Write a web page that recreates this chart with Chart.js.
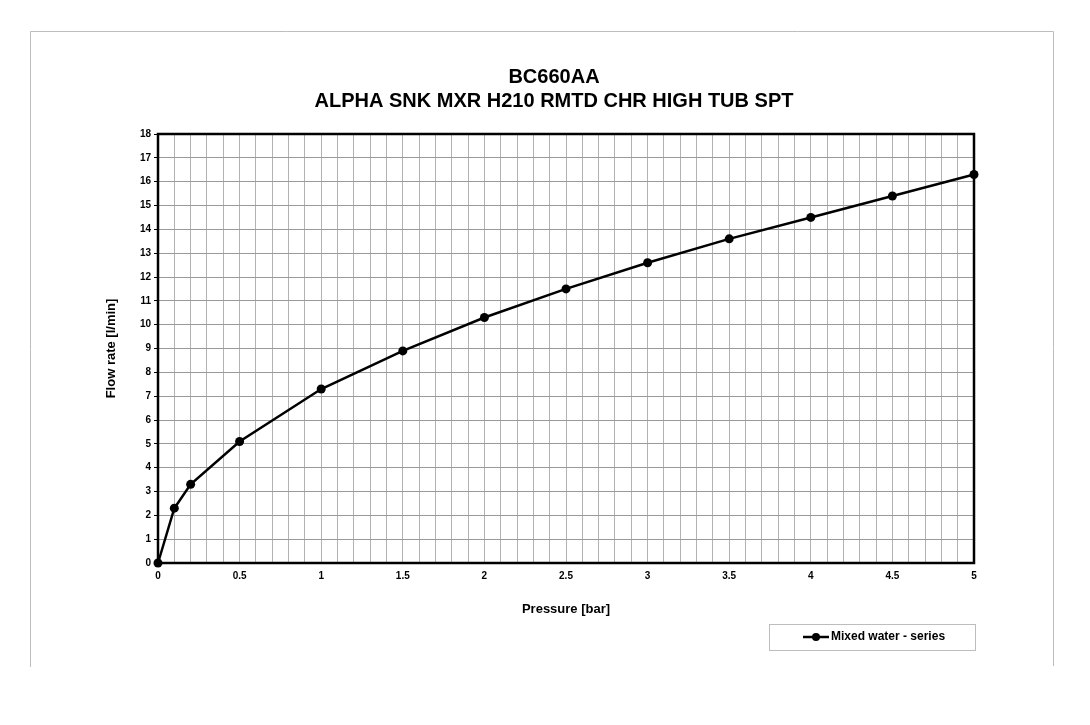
<!DOCTYPE html>
<html>
<head>
<meta charset="utf-8">
<script src="https://cdn.jsdelivr.net/npm/chart.js@4"></script>
<style>
  body { margin: 0; background: #fff; }
  canvas { display: block; }
</style>
</head>
<body>
<canvas id="chart" width="1090" height="725"></canvas>
<script>
const titleLines = ["BC660AA", "ALPHA SNK MXR H210 RMTD CHR HIGH TUB SPT"];
const seriesName = "Mixed water - series";
const pressure = [0, 0.1, 0.2, 0.5, 1, 1.5, 2, 2.5, 3, 3.5, 4, 4.5, 5];
const flowRate = [0, 2.3, 3.3, 5.1, 7.3, 8.9, 10.3, 11.5, 12.6, 13.6, 14.5, 15.4, 16.3];
const xTitle = "Pressure [bar]";
const yTitle = "Flow rate [l/min]";

const FONT = "'Liberation Sans', Arial, sans-serif";

const decor = {
  id: "decor",
  beforeDraw(chart) {
    const ctx = chart.ctx;
    ctx.save();
    // outer frame (left, top, right)
    ctx.strokeStyle = "#bdbdbd";
    ctx.lineWidth = 1;
    ctx.beginPath();
    ctx.moveTo(30.5, 667);
    ctx.lineTo(30.5, 31.5);
    ctx.lineTo(1053.5, 31.5);
    ctx.lineTo(1053.5, 666);
    ctx.stroke();
    // titles
    ctx.fillStyle = "#000";
    ctx.font = "bold 20px " + FONT;
    ctx.textAlign = "center";
    ctx.textBaseline = "middle";
    ctx.fillText(titleLines[0], 554, 77);
    ctx.fillText(titleLines[1], 554, 101);
    ctx.restore();
  },
  beforeDatasetsDraw(chart) {
    const a = chart.chartArea;
    const ctx = chart.ctx;
    ctx.save();
    ctx.strokeStyle = "#000";
    ctx.lineWidth = 2.5;
    ctx.strokeRect(a.left, a.top, a.right - a.left, a.bottom - a.top);
    ctx.restore();
  },
  afterDraw(chart) {
    const ctx = chart.ctx;
    ctx.save();
    // legend box
    ctx.strokeStyle = "#bdbdbd";
    ctx.lineWidth = 1;
    ctx.strokeRect(769.5, 624.5, 206, 26);
    ctx.strokeStyle = "#000";
    ctx.lineWidth = 2.5;
    ctx.beginPath();
    ctx.moveTo(803, 637);
    ctx.lineTo(829, 637);
    ctx.stroke();
    ctx.fillStyle = "#000";
    ctx.beginPath();
    ctx.arc(816, 637, 4, 0, Math.PI * 2);
    ctx.fill();
    ctx.font = "bold 12px " + FONT;
    ctx.textAlign = "left";
    ctx.textBaseline = "middle";
    ctx.fillText(chart.data.datasets[0].label, 831, 637);
    ctx.restore();
  }
};

new Chart(document.getElementById("chart"), {
  type: "line",
  data: {
    datasets: [{
      label: seriesName,
      data: pressure.map((p, i) => ({ x: p, y: flowRate[i] })),
      borderColor: "#000",
      backgroundColor: "#000",
      borderWidth: 2.5,
      pointRadius: 4.5,
      pointBackgroundColor: "#000",
      pointBorderWidth: 0,
      tension: 0,
      clip: false
    }]
  },
  options: {
    responsive: false,
    animation: false,
    devicePixelRatio: 1,
    layout: { padding: { left: 100, top: 134, right: 116, bottom: 100 } },
    plugins: {
      legend: { display: false },
      title: { display: false },
      tooltip: { enabled: false }
    },
    scales: {
      x: {
        type: "linear",
        min: 0,
        max: 5,
        afterFit(scale) { scale.height = 62; },
        grid: { color: "#b2b2b2", lineWidth: 1, tickLength: 4, tickColor: "transparent" },
        border: { display: false },
        ticks: {
          stepSize: 0.1,
          autoSkip: false,
          maxRotation: 0,
          padding: 3,
          color: "#000",
          font: { family: FONT, size: 10, weight: "bold" },
          callback(v) {
            const t = Math.round(v * 10);
            return t % 5 === 0 ? String(t / 10) : "";
          }
        },
        title: {
          display: true,
          text: xTitle,
          color: "#000",
          font: { family: FONT, size: 13, weight: "bold" },
          padding: { top: 0, bottom: 8 }
        }
      },
      y: {
        min: 0,
        max: 18,
        afterFit(scale) { scale.width = 58; },
        grid: { color: "#9a9a9a", lineWidth: 1, tickLength: 4, tickColor: "#000" },
        border: { display: false },
        ticks: {
          stepSize: 1,
          padding: 3,
          color: "#000",
          font: { family: FONT, size: 10, weight: "bold" }
        },
        title: {
          display: true,
          text: yTitle,
          color: "#000",
          font: { family: FONT, size: 13, weight: "bold" },
          padding: { top: 4, bottom: 0 }
        }
      }
    }
  },
  plugins: [decor]
});
</script>
</body>
</html>
